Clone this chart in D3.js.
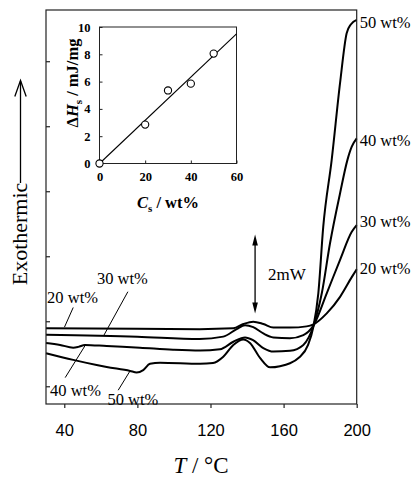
<!DOCTYPE html>
<html>
<head>
<meta charset="utf-8">
<script src="https://cdn.jsdelivr.net/npm/d3@7/dist/d3.min.js"></script>
<style>
  body { margin: 0; background: #fff; }
  svg { display: block; }
</style>
</head>
<body>
<svg id="chart" width="418" height="480"></svg>
<script>
// ---- DSC traces: temperature (°C) and heat flow (mW, arbitrary offset) ----
const temp20 = [30, 80, 114, 132.5, 138, 143.4, 148.9, 154.4, 163.5, 172.6, 176.3, 183.6, 190.9, 197.3, 200];
const heat20 = [1.92, 1.91, 1.90, 1.92, 2.03, 2.09, 2.03, 1.94, 1.94, 1.97, 2.02, 2.30, 2.72, 3.22, 3.42];

const temp30 = [30, 80, 114, 127, 134.3, 138.9, 143.4, 148.9, 154.4, 163.5, 170.8, 176.3, 183.6, 190.9, 197.3, 200];
const heat30 = [1.76, 1.71, 1.65, 1.71, 1.90, 2.00, 1.95, 1.79, 1.69, 1.67, 1.75, 1.99, 2.81, 3.66, 4.37, 4.54];

const temp40 = [30, 37.7, 44.9, 47.7, 51.3, 63.2, 81.4, 99.5, 114.3, 125.2, 132.5, 138.9, 143.3, 148.9, 154.4, 163.5, 170.8, 176.3, 180.9, 185.4, 190.9, 194.9, 197.3, 200];
const heat40 = [1.55, 1.50, 1.43, 1.45, 1.50, 1.47, 1.43, 1.38, 1.36, 1.39, 1.58, 1.69, 1.62, 1.42, 1.33, 1.35, 1.50, 1.98, 2.81, 4.08, 5.35, 6.19, 6.53, 6.74];

const temp50 = [30, 44.9, 57.7, 63.2, 76, 79.6, 83.2, 86.9, 92.4, 114.3, 121.4, 127, 132.5, 138, 141.6, 147.1, 152.6, 158, 169, 173.4, 176.3, 179, 181.7, 186.3, 190.9, 194.5, 196.9, 200];
const heat50 = [1.29, 1.12, 0.99, 0.94, 0.84, 0.80, 0.86, 1.02, 1.05, 1.02, 1.04, 1.20, 1.50, 1.64, 1.55, 1.17, 0.93, 0.96, 1.20, 1.50, 1.96, 2.81, 4.50, 6.19, 8.15, 9.41, 9.64, 9.75];

const seriesNames = ["20 wt%", "30 wt%", "40 wt%", "50 wt%"];
const tempTicks = [40, 80, 120, 160, 200];
const heatTicks = [0.45, 2.1, 3.75, 5.4, 7.05, 8.7];
const scaleBarMW = 2;          // height of the calibration arrow, mW
const scaleBarBase = 2.3;      // lower end of the calibration arrow, mW
const scaleBarTemp = 144.4;    // temperature where the arrow stands

// ---- inset: enthalpy vs concentration ----
const concValues = [0, 20, 30, 40, 50];
const enthalpyValues = [0, 2.85, 5.35, 5.85, 8.05];
const fitConc = [0, 60];
const fitEnthalpy = [0, 9.5];
const insetConcTicks = [0, 20, 40, 60];
const insetEnthalpyTicks = [0, 2, 4, 6, 8, 10];

const serif = "'Liberation Serif', 'Times New Roman', serif";
const sans = "'Liberation Sans', Arial, sans-serif";

const svg = d3.select("#chart");

// ---- main panel scales ----
const x = d3.scaleLinear().domain([30, 200]).range([46, 356.7]);
const y = d3.scaleLinear().domain([0, 10]).range([404, 10]);

const line = d3.line()
  .x(d => x(d[0]))
  .y(d => y(d[1]))
  .curve(d3.curveMonotoneX);

const traces = [
  { name: seriesNames[0], t: temp20, h: heat20 },
  { name: seriesNames[1], t: temp30, h: heat30 },
  { name: seriesNames[2], t: temp40, h: heat40 },
  { name: seriesNames[3], t: temp50, h: heat50 }
];

// traces
svg.append("g").selectAll("path")
  .data(traces)
  .join("path")
  .attr("d", s => line(s.t.map((t, i) => [t, s.h[i]])))
  .attr("fill", "none")
  .attr("stroke", "#000")
  .attr("stroke-width", 2)
  .attr("stroke-linejoin", "round");

// frame
svg.append("rect")
  .attr("x", x(30)).attr("y", y(10))
  .attr("width", x(200) - x(30)).attr("height", y(0) - y(10))
  .attr("fill", "none").attr("stroke", "#222").attr("stroke-width", 1.2);

// bottom axis
const xAxis = svg.append("g")
  .attr("transform", `translate(0,${y(0)})`)
  .call(d3.axisBottom(x).tickValues(tempTicks).tickSize(4).tickPadding(16).tickSizeOuter(0));
xAxis.select(".domain").remove();
xAxis.selectAll("line").attr("stroke", "#222").attr("stroke-width", 1.2);
xAxis.selectAll("text")
  .attr("fill", "#000")
  .style("font-family", sans)
  .style("font-size", "16.5px");

// left axis (unlabelled inward ticks)
const yAxis = svg.append("g")
  .attr("transform", `translate(${x(30)},0)`)
  .call(d3.axisLeft(y).tickValues(heatTicks).tickSize(-4).tickFormat(""));
yAxis.select(".domain").remove();
yAxis.selectAll("line").attr("stroke", "#222").attr("stroke-width", 1.2);

// x-axis title
const xt = svg.append("text")
  .attr("x", 201).attr("y", 473)
  .attr("text-anchor", "middle")
  .style("font-family", serif).style("font-size", "23px");
xt.append("tspan").attr("font-style", "italic").text("T");
xt.append("tspan").text(" / \u00B0C");

// y-axis title with upward arrow
svg.append("text")
  .attr("transform", "translate(26.5,234) rotate(-90)")
  .attr("text-anchor", "middle")
  .style("font-family", serif).style("font-size", "22px")
  .text("Exothermic");
svg.append("line")
  .attr("x1", 20.5).attr("x2", 20.5).attr("y1", 183).attr("y2", 81)
  .attr("stroke", "#000").attr("stroke-width", 1.3);
svg.append("path")
  .attr("d", "M14.8,96.5 L20.5,80.5 L26.2,96.5")
  .attr("fill", "none").attr("stroke", "#000").attr("stroke-width", 1.3);

// right-hand series labels at the trace ends
const endLabelOffset = { "20 wt%": 0.02, "30 wt%": 0.1, "40 wt%": -0.05, "50 wt%": -0.05 };
svg.append("g").selectAll("text")
  .data(traces)
  .join("text")
  .attr("x", x(200) + 3)
  .attr("y", s => y(s.h[s.h.length - 1] + endLabelOffset[s.name]))
  .attr("dy", "0.35em")
  .style("font-family", serif).style("font-size", "16.5px")
  .text(s => s.name);

// left-hand labels with leader lines (anchors in data units)
const leaders = [
  { name: seriesNames[0], tx: 30.6, ty: 2.7, from: [44.9, 2.45], to: [40.1, 1.95] },
  { name: seriesNames[1], tx: 57.9, ty: 3.2, from: [74.8, 2.85], to: [61.5, 1.73] },
  { name: seriesNames[2], tx: 32.2, ty: 0.35, from: [51.5, 1.49], to: [40.5, 0.67] },
  { name: seriesNames[3], tx: 63.6, ty: 0.13, from: [76, 0.84], to: [69.5, 0.35] }
];
const lg = svg.append("g");
lg.selectAll("line")
  .data(leaders)
  .join("line")
  .attr("x1", d => x(d.from[0])).attr("y1", d => y(d.from[1]))
  .attr("x2", d => x(d.to[0])).attr("y2", d => y(d.to[1]))
  .attr("stroke", "#000").attr("stroke-width", 1);
lg.selectAll("text")
  .data(leaders)
  .join("text")
  .attr("x", d => x(d.tx)).attr("y", d => y(d.ty))
  .attr("dy", "0.35em")
  .attr("fill", "#000")
  .style("font-family", serif).style("font-size", "16.5px")
  .text(d => d.name);

// 2 mW calibration arrow
const ax = x(scaleBarTemp);
const ay0 = y(scaleBarBase);
const ay1 = y(scaleBarBase + scaleBarMW);
svg.append("line")
  .attr("x1", ax).attr("x2", ax).attr("y1", ay1 + 8).attr("y2", ay0 - 8)
  .attr("stroke", "#000").attr("stroke-width", 1.3);
svg.append("path")
  .attr("d", `M${ax},${ay1} L${ax - 2.8},${ay1 + 11} L${ax + 2.8},${ay1 + 11} Z M${ax},${ay0} L${ax - 2.8},${ay0 - 11} L${ax + 2.8},${ay0 - 11} Z`)
  .attr("fill", "#000");
svg.append("text")
  .attr("x", ax + 13).attr("y", (ay0 + ay1) / 2)
  .attr("dy", "0.35em")
  .style("font-family", serif).style("font-size", "17px")
  .text(scaleBarMW + "mW");

// ---- inset ----
const ix = d3.scaleLinear().domain([0, 60]).range([99.5, 236.5]);
const iy = d3.scaleLinear().domain([0, 10]).range([163.5, 27]);

svg.append("rect")
  .attr("x", ix(0)).attr("y", iy(10))
  .attr("width", ix(60) - ix(0)).attr("height", iy(0) - iy(10))
  .attr("fill", "#fff").attr("stroke", "#222").attr("stroke-width", 1);

const ixAxis = svg.append("g")
  .attr("transform", `translate(0,${iy(0)})`)
  .call(d3.axisBottom(ix).tickValues(insetConcTicks).tickSize(-3).tickPadding(9).tickSizeOuter(0));
ixAxis.select(".domain").remove();
const iyAxis = svg.append("g")
  .attr("transform", `translate(${ix(0)},0)`)
  .call(d3.axisLeft(iy).tickValues(insetEnthalpyTicks).tickSize(-3).tickPadding(9).tickSizeOuter(0));
iyAxis.select(".domain").remove();
[ixAxis, iyAxis].forEach(g => {
  g.selectAll("line").attr("stroke", "#222");
  g.selectAll("text").attr("fill", "#000")
    .style("font-family", serif).style("font-size", "12.5px").style("font-weight", "bold");
});

svg.append("path")
  .attr("d", d3.line().x(d => ix(d[0])).y(d => iy(d[1]))(fitConc.map((c, i) => [c, fitEnthalpy[i]])))
  .attr("stroke", "#000").attr("stroke-width", 1.1).attr("fill", "none");

svg.append("g").selectAll("circle")
  .data(concValues.map((c, i) => [c, enthalpyValues[i]]))
  .join("circle")
  .attr("cx", d => ix(d[0])).attr("cy", d => iy(d[1]))
  .attr("r", 3.6)
  .attr("fill", "#fff").attr("stroke", "#000").attr("stroke-width", 1.1);

// inset axis titles
const iyt = svg.append("text")
  .attr("transform", "translate(78,83) rotate(-90)")
  .attr("text-anchor", "middle")
  .style("font-family", serif).style("font-size", "16.5px").style("font-weight", "bold");
iyt.append("tspan").text("\u0394");
iyt.append("tspan").attr("font-style", "italic").text("H");
iyt.append("tspan").attr("dy", 4).style("font-size", "11px").text("s");
iyt.append("tspan").attr("dy", -4).text(" / mJ/mg");

const ixt = svg.append("text")
  .attr("x", 168).attr("y", 208)
  .attr("text-anchor", "middle")
  .style("font-family", serif).style("font-size", "16.5px").style("font-weight", "bold");
ixt.append("tspan").attr("font-style", "italic").text("C");
ixt.append("tspan").attr("dy", 4).style("font-size", "11px").text("s");
ixt.append("tspan").attr("dy", -4).text(" / wt%");
</script>
</body>
</html>
